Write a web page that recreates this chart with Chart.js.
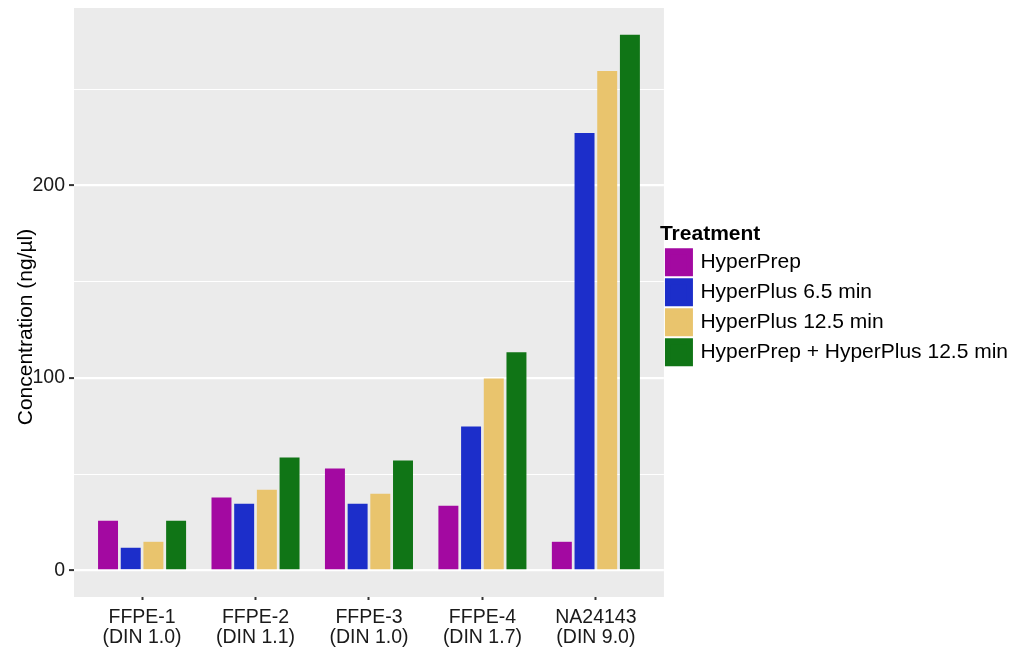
<!DOCTYPE html>
<html>
<head>
<meta charset="utf-8">
<script src="https://cdn.jsdelivr.net/npm/chart.js@4.4.1/dist/chart.umd.min.js"></script>
<style>
    html, body { margin: 0; padding: 0; background: #fff; }
</style>
</head>
<body>
<canvas id="graficoConcentracao" width="1026" height="647"></canvas>
<script>
// Dados
const amostras = [
    ['FFPE-1', '(DIN 1.0)'],
    ['FFPE-2', '(DIN 1.1)'],
    ['FFPE-3', '(DIN 1.0)'],
    ['FFPE-4', '(DIN 1.7)'],
    ['NA24143', '(DIN 9.0)']
];
const tratamentos = ['HyperPrep', 'HyperPlus 6.5 min', 'HyperPlus 12.5 min', 'HyperPrep + HyperPlus 12.5 min'];
const hyperPrep = [25.8, 37.8, 52.9, 33.6, 14.8];
const hyperPlus65 = [11.7, 34.6, 34.6, 74.7, 227.3];
const hyperPlus125 = [14.8, 41.9, 39.8, 99.7, 259.6];
const hyperPrepPlus125 = [25.8, 58.6, 57.0, 113.3, 278.4];
const cores = ['#A309A1', '#1C2ECA', '#E9C46D', '#107516'];
const ticksY = [0, 50, 100, 150, 200, 250];
const rotulosY = [0, 100, 200];

const fonte = '"Liberation Sans", Arial, sans-serif';
const series = [hyperPrep, hyperPlus65, hyperPlus125, hyperPrepPlus125];

// fundo cinza do painel (estilo ggplot)
const fundoPainel = {
    id: 'fundoPainel',
    beforeDraw(chart) {
        const { ctx, chartArea } = chart;
        ctx.save();
        ctx.fillStyle = '#EBEBEB';
        ctx.fillRect(chartArea.left, chartArea.top, chartArea.right - chartArea.left, chartArea.bottom - chartArea.top);
        ctx.restore();
    }
};

// título do eixo Y
const tituloEixoY = {
    id: 'tituloEixoY',
    afterDraw(chart) {
        const ctx = chart.ctx;
        ctx.save();
        ctx.translate(26, 327);
        ctx.rotate(-Math.PI / 2);
        ctx.font = '21px ' + fonte;
        ctx.fillStyle = '#000';
        ctx.textAlign = 'center';
        ctx.textBaseline = 'middle';
        ctx.fillText('Concentration (ng/µl)', 0, 0);
        ctx.restore();
    }
};

// encosta a legenda no painel
const ajusteLegenda = {
    id: 'ajusteLegenda',
    afterLayout(chart) {
        if (chart.legend) {
            chart.legend.left -= 4;
            chart.legend.right -= 4;
        }
    }
};

// tira o espaço extra que o Chart.js reserva para os rótulos
function semMargem(axis) {
    axis.paddingTop = 0;
    axis.paddingBottom = 0;
    axis.paddingLeft = 0;
    axis.paddingRight = 0;
}

const ctx = document.getElementById('graficoConcentracao').getContext('2d');
window.graficoConcentracao = new Chart(ctx, {
    type: 'bar',
    data: {
        datasets: tratamentos.map((nome, i) => ({
            label: nome,
            data: series[i].map((v, j) => ({ x: j, y: v })),
            backgroundColor: cores[i],
            borderColor: cores[i],
            borderWidth: 0,
            categoryPercentage: 0.8,
            barPercentage: 0.88
        }))
    },
    options: {
        responsive: false,
        animation: false,
        devicePixelRatio: 1,
        layout: { padding: { top: 8, right: 4, left: 0, bottom: 0 } },
        scales: {
            x: {
                type: 'linear',
                offset: false,
                min: -0.6,
                max: 4.6,
                afterBuildTicks: axis => { axis.ticks = amostras.map((a, i) => ({ value: i })); },
                afterFit: axis => { axis.height = 50; semMargem(axis); },
                border: { display: false },
                grid: {
                    offset: false,
                    drawOnChartArea: false,
                    drawTicks: true,
                    tickLength: 3,
                    tickWidth: 2,
                    tickColor: '#333'
                },
                ticks: {
                    autoSkip: false,
                    maxRotation: 0,
                    padding: 7,
                    color: '#1a1a1a',
                    font: { family: fonte, size: 19.5, lineHeight: 1.05 },
                    callback: (valor, indice) => amostras[indice]
                }
            },
            y: {
                min: -13.9,
                max: 292.3,
                afterBuildTicks: axis => { axis.ticks = ticksY.map(v => ({ value: v })); },
                afterFit: axis => { axis.width = 74; semMargem(axis); },
                border: { display: false },
                grid: {
                    color: '#FFFFFF',
                    lineWidth: c => (c.tick && c.tick.value % 100 === 0) ? 2.2 : 1.1,
                    tickColor: c => (c.tick && c.tick.value % 100 === 0) ? '#333' : 'rgba(0,0,0,0)',
                    tickLength: 5,
                    tickWidth: 2
                },
                ticks: {
                    padding: 4,
                    color: '#1a1a1a',
                    font: { family: fonte, size: 19.5 },
                    callback: valor => rotulosY.includes(valor) ? valor : ''
                }
            }
        },
        plugins: {
            legend: {
                position: 'right',
                align: 'start',
                fullSize: false,
                maxWidth: 400,
                labels: {
                    // caixa de 22px com contorno de 6px = quadrado de 28px
                    boxWidth: 22,
                    boxHeight: 22,
                    padding: 8,
                    color: '#000',
                    font: { family: fonte, size: 21 },
                    generateLabels: chart => Chart.defaults.plugins.legend.labels.generateLabels(chart).map(item => {
                        item.lineWidth = 6;
                        item.strokeStyle = item.fillStyle;
                        return item;
                    })
                },
                title: {
                    display: true,
                    text: 'Treatment',
                    color: '#000',
                    position: 'start',
                    font: { family: fonte, size: 21, weight: 'bold', lineHeight: 1.15 },
                    padding: { top: 216, bottom: -5 }
                }
            },
            tooltip: { enabled: false }
        }
    },
    plugins: [fundoPainel, tituloEixoY, ajusteLegenda]
});
</script>
</body>
</html>
